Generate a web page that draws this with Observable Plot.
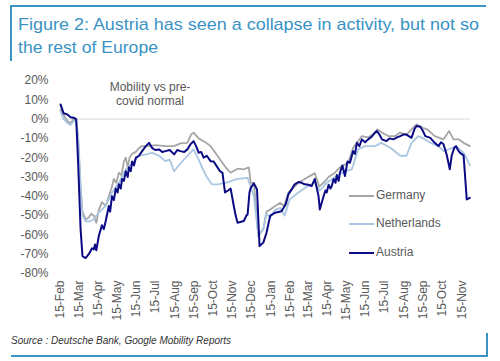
<!DOCTYPE html>
<html><head><meta charset="utf-8">
<script src="https://cdn.jsdelivr.net/npm/d3@7"></script>
<script src="https://cdn.jsdelivr.net/npm/@observablehq/plot@0.6"></script>
<style>
body{margin:0;background:#fff;font-family:"Liberation Sans",Arial,sans-serif;}
#wrap{position:relative;width:500px;height:361px;overflow:hidden;background:#fff;}
.abs{position:absolute;white-space:nowrap;}
#title{left:18px;top:13px;font-size:17px;line-height:23px;color:#3a93c3;}
#title span{display:inline-block;transform-origin:0 0;}
#note{left:107px;top:80px;width:86px;text-align:center;font-size:12px;line-height:14px;color:#595959;white-space:normal;}
#source{left:11px;top:335px;font-size:10px;font-style:italic;color:#333;}
.leg{position:absolute;font-size:12px;color:#595959;line-height:14px;}
.leg i{display:inline-block;width:25px;height:2px;vertical-align:middle;margin-right:2px;}
#chart{position:absolute;left:0;top:62px;}
</style></head>
<body><div id="wrap">
<div class="abs" style="left:10px;top:5px;width:476px;height:2px;background:#3a93c3"></div>
<div class="abs" style="left:10px;top:5px;width:2px;height:56px;background:#3a93c3"></div>
<div class="abs" style="left:11px;top:355px;width:477px;height:2px;background:#3a93c3"></div>
<div class="abs" style="left:486px;top:333px;width:2px;height:24px;background:#3a93c3"></div>
<div id="chart"></div>
<div class="abs" id="title"><span id="t1">Figure 2: Austria has seen a collapse in activity, but not so</span><br><span id="t2">the rest of Europe</span></div>
<div class="abs" id="note">Mobility vs pre-covid normal</div>
<div class="abs" id="legend"></div>
<div class="abs" id="source"><span id="s1">Source : Deutsche Bank, Google Mobility Reports</span></div>
</div>
<script>
const seriesNames = ["Germany", "Netherlands", "Austria"];
const seriesColors = ["#a6a6a6", "#a9c6e2", "#0b0b85"];

const germany = [["2020-02-15",5],["2020-02-20",2],["2020-02-26",-1],["2020-03-02",-2],["2020-03-07",0],["2020-03-11",-1],["2020-03-14",-10],["2020-03-18",-35],["2020-03-21",-48],["2020-03-26",-52],["2020-03-31",-51],["2020-04-04",-49],["2020-04-08",-50],["2020-04-12",-53.7],["2020-04-16",-47],["2020-04-21",-43],["2020-04-27",-45],["2020-05-02",-40],["2020-05-06",-36],["2020-05-10",-31],["2020-05-14",-33],["2020-05-18",-27.8],["2020-05-22",-29],["2020-05-26",-22],["2020-05-29",-20],["2020-06-01",-25],["2020-06-04",-20],["2020-06-08",-18],["2020-06-14",-17],["2020-06-19",-15],["2020-06-24",-14],["2020-07-05",-14],["2020-07-15",-13.5],["2020-07-31",-14],["2020-08-14",-14],["2020-08-24",-12.6],["2020-09-04",-12.3],["2020-09-10",-8],["2020-09-14",-7],["2020-09-22",-10],["2020-10-04",-12.3],["2020-10-11",-14],["2020-10-22",-19],["2020-11-04",-25],["2020-11-12",-27.8],["2020-11-23",-25.7],["2020-12-03",-26],["2020-12-11",-25],["2020-12-14",-33],["2020-12-19",-33],["2020-12-26",-60.6],["2021-01-03",-57],["2021-01-08",-48],["2021-01-14",-46.8],["2021-01-22",-45],["2021-01-30",-43.4],["2021-02-05",-45],["2021-02-12",-38],["2021-02-28",-33],["2021-03-10",-31],["2021-03-26",-28],["2021-04-02",-35],["2021-04-09",-33],["2021-04-17",-30],["2021-04-27",-27.8],["2021-05-05",-25],["2021-05-18",-22.6],["2021-05-26",-15],["2021-06-09",-8.8],["2021-06-19",-9.5],["2021-06-30",-7],["2021-07-03",-5.3],["2021-07-11",-7],["2021-07-21",-8.8],["2021-08-01",-8.8],["2021-08-09",-7],["2021-08-19",-8],["2021-09-04",-2.7],["2021-09-14",-4.5],["2021-09-22",-5.5],["2021-10-03",-8.8],["2021-10-17",-10.5],["2021-10-26",-6.2],["2021-11-02",-10.5],["2021-11-10",-10.5],["2021-11-18",-12.3],["2021-11-28",-14]];

const netherlands = [["2020-02-15",4],["2020-02-20",0],["2020-02-26",-2],["2020-03-02",-3],["2020-03-07",-1],["2020-03-11",-1],["2020-03-14",-8],["2020-03-18",-35],["2020-03-21",-50],["2020-03-26",-53],["2020-04-01",-53],["2020-04-08",-52],["2020-04-12",-50],["2020-04-16",-48.5],["2020-04-27",-45],["2020-05-07",-38],["2020-05-18",-33],["2020-05-29",-26],["2020-06-08",-23],["2020-06-19",-19],["2020-06-30",-18.3],["2020-07-10",-17.5],["2020-07-21",-19],["2020-07-31",-21.8],["2020-08-07",-21],["2020-08-14",-27],["2020-08-24",-23],["2020-09-04",-19],["2020-09-14",-15.7],["2020-09-22",-21],["2020-10-04",-29.5],["2020-10-13",-33.8],["2020-10-22",-33.8],["2020-11-04",-33],["2020-11-23",-31],["2020-12-09",-30.4],["2020-12-19",-40],["2020-12-26",-60],["2021-01-03",-57],["2021-01-08",-49],["2021-01-14",-51],["2021-01-22",-47],["2021-01-30",-46],["2021-02-06",-50],["2021-02-14",-41.6],["2021-02-28",-38],["2021-03-15",-34.7],["2021-03-26",-33],["2021-04-03",-37],["2021-04-14",-33],["2021-04-30",-29.5],["2021-05-13",-27],["2021-05-24",-26],["2021-06-03",-15.7],["2021-06-14",-14],["2021-06-30",-14],["2021-07-10",-12.3],["2021-07-25",-15],["2021-08-09",-19],["2021-08-19",-19],["2021-08-27",-12.3],["2021-09-07",-8.8],["2021-09-15",-10],["2021-09-26",-12.3],["2021-10-09",-14],["2021-10-17",-16.6],["2021-10-27",-15.5],["2021-11-06",-14],["2021-11-18",-17.4],["2021-11-28",-24]];

const austria = [["2020-02-15",7.6],["2020-02-20",3],["2020-02-26",2.4],["2020-03-02",1],["2020-03-07",0.7],["2020-03-11",0],["2020-03-14",-22],["2020-03-18",-57],["2020-03-21",-71],["2020-03-26",-72],["2020-03-31",-70],["2020-04-05",-67],["2020-04-08",-67.5],["2020-04-10",-65],["2020-04-12",-68],["2020-04-16",-60.6],["2020-04-21",-55],["2020-04-24",-57],["2020-04-27",-52.8],["2020-05-02",-45],["2020-05-04",-48],["2020-05-07",-40],["2020-05-10",-42],["2020-05-13",-36],["2020-05-16",-38],["2020-05-18",-33.7],["2020-05-21",-36],["2020-05-23",-31],["2020-05-26",-32],["2020-05-29",-27],["2020-06-01",-30],["2020-06-03",-25],["2020-06-06",-27],["2020-06-08",-22],["2020-06-11",-24],["2020-06-14",-20],["2020-06-19",-19],["2020-06-24",-16.6],["2020-06-30",-14],["2020-07-05",-12.3],["2020-07-10",-15],["2020-07-15",-16],["2020-07-21",-15.7],["2020-07-26",-17],["2020-07-31",-16.6],["2020-08-07",-16],["2020-08-14",-18.3],["2020-08-19",-16],["2020-08-24",-16.6],["2020-08-30",-17],["2020-09-04",-15.7],["2020-09-09",-13],["2020-09-14",-11.4],["2020-09-18",-14],["2020-09-22",-17.4],["2020-09-26",-17],["2020-09-30",-20],["2020-10-05",-19],["2020-10-11",-21.8],["2020-10-16",-22],["2020-10-22",-25],["2020-10-26",-27],["2020-10-30",-27.8],["2020-11-03",-38],["2020-11-08",-37],["2020-11-12",-36],["2020-11-17",-45],["2020-11-20",-50],["2020-11-23",-53.7],["2020-12-03",-52.8],["2020-12-07",-50],["2020-12-09",-49.4],["2020-12-12",-38],["2020-12-14",-35.6],["2020-12-19",-33.3],["2020-12-24",-36.5],["2020-12-28",-65.8],["2021-01-03",-64],["2021-01-08",-59],["2021-01-14",-50],["2021-01-22",-48.5],["2021-02-01",-47.7],["2021-02-08",-44],["2021-02-12",-39],["2021-02-18",-36],["2021-02-22",-33.8],["2021-02-28",-32.6],["2021-03-05",-33],["2021-03-10",-33.8],["2021-03-16",-34],["2021-03-21",-34.7],["2021-03-26",-31],["2021-04-01",-40],["2021-04-03",-46.8],["2021-04-09",-40],["2021-04-12",-37],["2021-04-14",-38],["2021-04-17",-34],["2021-04-20",-36],["2021-04-22",-34.7],["2021-04-25",-31],["2021-04-28",-33],["2021-04-30",-29],["2021-05-03",-32],["2021-05-05",-27.8],["2021-05-09",-24],["2021-05-13",-29.5],["2021-05-17",-22],["2021-05-21",-22.6],["2021-05-26",-16.6],["2021-05-29",-18],["2021-06-01",-12.3],["2021-06-05",-14],["2021-06-09",-10.5],["2021-06-14",-12],["2021-06-19",-10.5],["2021-06-25",-9],["2021-06-30",-7],["2021-07-03",-6.2],["2021-07-07",-8],["2021-07-11",-10.5],["2021-07-18",-11.4],["2021-07-23",-10],["2021-07-29",-10.5],["2021-08-04",-9.5],["2021-08-09",-8.8],["2021-08-14",-8],["2021-08-19",-8],["2021-08-27",-9.7],["2021-09-01",-5],["2021-09-04",-3.6],["2021-09-10",-4],["2021-09-14",-6],["2021-09-18",-8.8],["2021-09-26",-9.7],["2021-10-03",-12.3],["2021-10-09",-14],["2021-10-13",-12],["2021-10-17",-13],["2021-10-22",-18.3],["2021-10-27",-26],["2021-10-30",-19],["2021-11-03",-15],["2021-11-06",-14],["2021-11-09",-16],["2021-11-12",-17.4],["2021-11-18",-18.8],["2021-11-23",-41.6],["2021-11-28",-40.8]];

const xTickDates = ["2020-02-15","2020-03-15","2020-04-15","2020-05-15","2020-06-15","2020-07-15","2020-08-15","2020-09-15","2020-10-15","2020-11-15","2020-12-15","2021-01-15","2021-02-15","2021-03-15","2021-04-15","2021-05-15","2021-06-15","2021-07-15","2021-08-15","2021-09-15","2021-10-15","2021-11-15"];
const yTicks = [20,10,0,-10,-20,-30,-40,-50,-60,-70,-80];

const parse = d3.utcParse("%Y-%m-%d");
const allSeries = [germany, netherlands, austria];
const rows = [];
allSeries.forEach((s, i) => s.forEach(([d, v]) => rows.push({date: parse(d), value: v, country: seriesNames[i]})));

const chart = Plot.plot({
  width: 500, height: 268,
  marginLeft: 60, marginRight: 30, marginTop: 18, marginBottom: 57,
  style: {fontFamily: '"Liberation Sans", Arial, sans-serif', fontSize: "12px", color: "#595959", background: "transparent", overflow: "visible"},
  x: {type: "utc", domain: [parse("2020-02-15"), parse("2021-11-29")], ticks: xTickDates.map(parse),
      tickFormat: d3.utcFormat("%d-%b"), tickRotate: -90, tickSize: 0, tickPadding: 7, label: null},
  y: {domain: [-80, 20], ticks: yTicks, tickFormat: d => d + "%", tickSize: 0, tickPadding: 12, label: null},
  color: {domain: seriesNames, range: seriesColors},
  marks: [
    Plot.ruleY([0], {stroke: "#d9d9d9", strokeWidth: 1}),
    Plot.line(rows, {x: "date", y: "value", z: "country", stroke: "country", strokeWidth: d => d.country === "Austria" ? 2 : 1.8, curve: "linear"})
  ]
});
document.getElementById("chart").appendChild(chart);

// legend
const legTops = [188, 216, 245];
const leg = document.getElementById("legend");
seriesNames.forEach((n, i) => {
  const el = document.createElement("div");
  el.className = "leg";
  el.style.left = "349px";
  el.style.top = legTops[i] + "px";
  el.innerHTML = `<i style="background:${seriesColors[i]}"></i>${n}`;
  leg.appendChild(el);
});

// fit title widths
function fit(id, w) {
  const el = document.getElementById(id);
  const cw = el.getBoundingClientRect().width;
  el.style.transform = `scaleX(${w / cw})`;
}
fit("t1", 461);
fit("t2", 140);
fit("s1", 215);
</script>
</body></html>
